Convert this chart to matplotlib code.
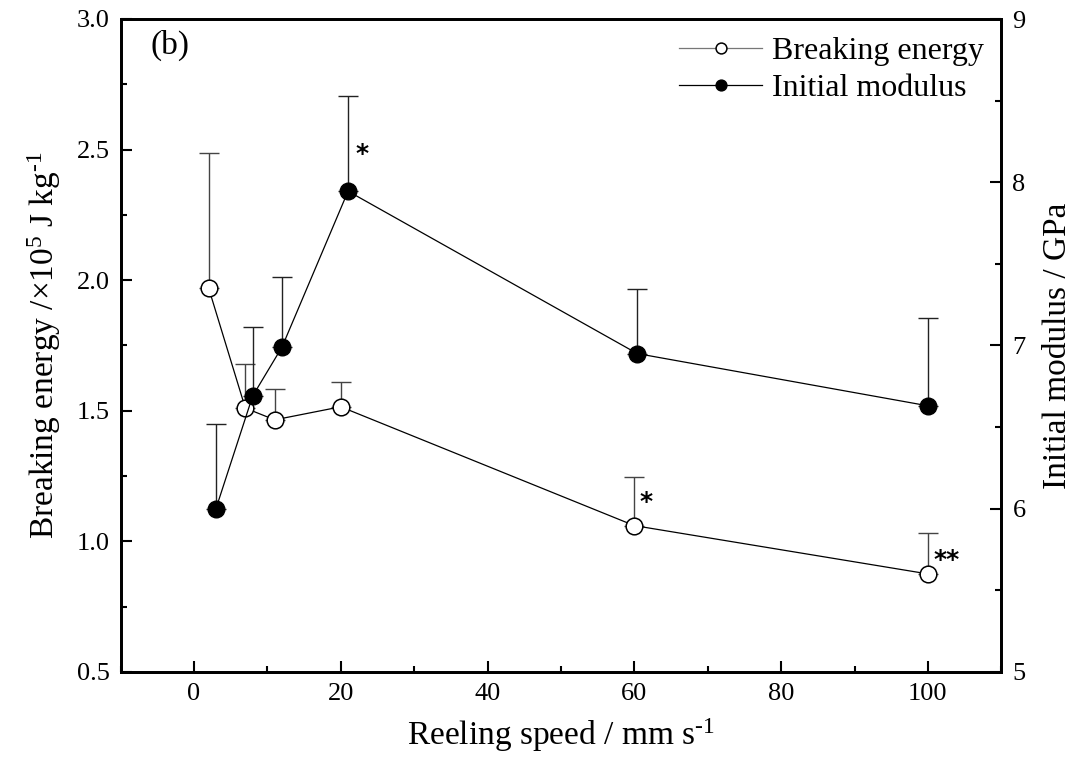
import numpy as np
import matplotlib
matplotlib.use("Agg")
import matplotlib.pyplot as plt
from matplotlib.ticker import MultipleLocator

plt.rcParams['font.family'] = ['Liberation Serif', 'DejaVu Serif']
plt.rcParams['mathtext.fontset'] = 'custom'
plt.rcParams['mathtext.rm'] = 'Liberation Serif'
plt.rcParams['mathtext.it'] = 'Liberation Serif:italic'

# breaking energy (left axis), open circles
speed_e = [2, 7, 11, 20, 60, 100]
energy = [1.97, 1.51, 1.465, 1.515, 1.06, 0.875]
energy_top = [2.485, 1.68, 1.583, 1.61, 1.248, 1.031]

# initial modulus (right axis), filled circles
speed_m = [3, 8, 12, 21, 60.4, 100]
modulus = [6.0, 6.69, 6.99, 7.945, 6.95, 6.63]
modulus_top = [6.517, 7.11, 7.42, 8.53, 7.345, 7.17]

energy = np.array(energy)
modulus = np.array(modulus)
err_e = [np.zeros(len(energy)), np.array(energy_top) - energy]
err_m = [np.zeros(len(modulus)), np.array(modulus_top) - modulus]

fig = plt.figure(figsize=(10.86, 7.6), dpi=100)
ax = fig.add_axes([0.111, 0.116, 0.811, 0.859])
ax2 = ax.twinx()

ax.errorbar(speed_e, energy, yerr=err_e, fmt='none', ecolor='#444444',
            elinewidth=1, capsize=7, capthick=1, zorder=2)
l1, = ax.plot(speed_e, energy, '-o', color='black', lw=0.9, ms=12,
              mfc='white', mec='black', mew=1.1, zorder=3)

ax2.errorbar(speed_m, modulus, yerr=err_m, fmt='none', ecolor='#222222',
             elinewidth=1, capsize=7, capthick=1, zorder=2)
l2, = ax2.plot(speed_m, modulus, '-o', color='black', lw=0.9, ms=12,
               mfc='black', mec='black', zorder=3)

ax.set_xlim(-10, 110)
ax.set_ylim(0.5, 3.0)
ax2.set_ylim(5, 9)

ax.xaxis.set_major_locator(MultipleLocator(20))
ax.xaxis.set_minor_locator(MultipleLocator(10))
ax.yaxis.set_major_locator(MultipleLocator(0.5))
ax.yaxis.set_minor_locator(MultipleLocator(0.25))
ax2.yaxis.set_major_locator(MultipleLocator(1))
ax2.yaxis.set_minor_locator(MultipleLocator(0.5))
ax.yaxis.set_major_formatter(matplotlib.ticker.FormatStrFormatter('%.1f'))

for a in (ax, ax2):
    a.tick_params(which='major', direction='in', length=8, width=1.5,
                  labelsize=19, pad=8)
    a.tick_params(which='minor', direction='in', length=4, width=1.5)
    for s in a.spines.values():
        s.set_linewidth(2)
ax.tick_params(axis='y', which='both', right=False)
ax.tick_params(axis='x', which='both', top=False)

ax.set_xlabel(r'Reeling speed / mm s$^{\text{-1}}$', fontsize=24, labelpad=8)
ax.set_ylabel(r'Breaking energy /$\times$10$^5$ J kg$^{\text{-1}}$', fontsize=24, labelpad=10)
ax2.set_ylabel('Initial modulus / GPa', fontsize=24, labelpad=12)

ax.text(0.056, 0.96, '(b)', transform=ax.transAxes, fontsize=24,
        ha='center', va='center')

# significance marks
ax2.text(22.9, 8.17, '*', fontsize=18, weight='bold', family='DejaVu Sans',
         ha='center', va='center')
ax.text(61.6, 1.15, '*', fontsize=18, weight='bold', family='DejaVu Sans',
        ha='center', va='center')
ax.text(102.6, 0.93, '**', fontsize=18, weight='bold', family='DejaVu Sans',
        ha='center', va='center')

leg = ax2.legend([l1, l2], ['Breaking energy', 'Initial modulus'],
                 loc='upper right', frameon=False, fontsize=23,
                 markerscale=0.65, handlelength=2.6, handletextpad=0.3,
                 borderaxespad=0.15, labelspacing=0.25)
leg.get_lines()[0].set_color('#777777')
leg.get_lines()[0].set_markeredgecolor('black')

fig.savefig('out.png', dpi=100)
